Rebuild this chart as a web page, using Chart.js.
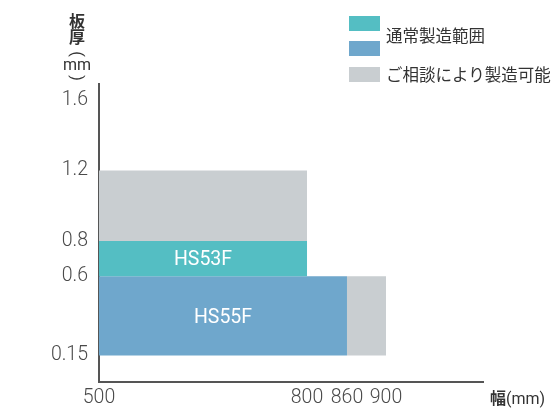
<!DOCTYPE html>
<html lang="ja">
  <head>
    <meta charset="UTF-8" />
    <title>板厚・幅 製造範囲</title>
    <script src="https://cdn.jsdelivr.net/npm/chart.js"></script>
    <style>
      * {
        margin: 0;
        padding: 0;
        box-sizing: border-box;
      }

      body {
        width: 556px;
        height: 410px;
        background: #fff;
        font-family: "Noto Sans CJK JP", sans-serif;
        color: #333;
        position: relative;
        overflow: hidden;
      }

      .wrap {
        position: absolute;
        left: 0;
        top: 0;
        width: 556px;
        height: 410px;
      }

      /* Y axis title, stacked vertically */
      .ytitle span {
        position: absolute;
        display: block;
        width: 30px;
        left: 62px;
        text-align: center;
        color: #333;
        white-space: nowrap;
      }

      .ytitle .kanji {
        font-size: 16px;
        font-weight: bold;
        line-height: 16px;
      }

      .ytitle .paren {
        font-family: Roboto, sans-serif;
        font-size: 16px;
        line-height: 16px;
        transform: rotate(90deg);
      }

      .ytitle .mm {
        font-family: Roboto, sans-serif;
        font-size: 16px;
        line-height: 16px;
      }

      .xtitle {
        position: absolute;
        left: 490px;
        top: 387px;
        font-size: 16px;
        line-height: 20px;
        color: #333;
        white-space: nowrap;
      }

      .xtitle b {
        font-weight: bold;
      }

      .xtitle span {
        font-family: Roboto, sans-serif;
      }

      /* Legend */
      .legend {
        position: absolute;
        left: 349px;
        top: 16px;
      }

      .legend .box {
        position: absolute;
        left: 0;
        width: 31px;
        height: 15px;
      }

      .legend .label {
        position: absolute;
        left: 37px;
        font-size: 16.5px;
        line-height: 20px;
        color: #333;
        white-space: nowrap;
      }
    </style>
  </head>
  <body>
    <div class="wrap"><canvas id="rangeChart" width="556" height="410"></canvas></div>

    <div class="ytitle">
      <span class="kanji" style="top: 12px">板</span>
      <span class="kanji" style="top: 28px">厚</span>
      <span class="paren" style="top: 46px">(</span>
      <span class="mm" style="top: 57px">mm</span>
      <span class="paren" style="top: 70px">)</span>
    </div>
    <div class="xtitle"><b>幅</b><span>(mm)</span></div>

    <div class="legend">
      <div class="box" style="top: 0; background: #54bec3"></div>
      <div class="box" style="top: 25px; background: #6fa7cc"></div>
      <div class="box" style="top: 51px; background: #c9ced1"></div>
      <div class="label" style="top: 9px">通常製造範囲</div>
      <div class="label" style="top: 48px">ご相談により製造可能</div>
    </div>

    <script>
      // tick labels
      const widthTicks = [500, 800, 860, 900];
      const thicknessTicks = [0.15, 0.6, 0.8, 1.2, 1.6];

      // normal production ranges (teal / blue)
      const normalNames = ["HS53F", "HS55F"];
      const normalWidthFrom = [500, 500];
      const normalWidthTo = [800, 860];
      const normalThickFrom = [0.6, 0.15];
      const normalThickTo = [0.8, 0.6];

      // available on request (gray)
      const consultWidthFrom = [500, 860];
      const consultWidthTo = [800, 900];
      const consultThickFrom = [0.8, 0.15];
      const consultThickTo = [1.2, 0.6];

      const TEAL = "#54bec3";
      const BLUE = "#6fa7cc";
      const GRAY = "#c9ced1";

      // the width axis in the original is not to scale, so use a
      // piecewise linear axis: [value, fraction of axis length]
      class BrokenScale extends Chart.LinearScale {
        static id = "broken";
        static defaults = Chart.LinearScale.defaults;

        toDecimal(v) {
          const stops = this.options.stops;
          if (v <= stops[0][0]) return stops[0][1];
          for (let i = 1; i < stops.length; i++) {
            const a = stops[i - 1];
            const b = stops[i];
            if (v <= b[0]) {
              return a[1] + ((v - a[0]) / (b[0] - a[0])) * (b[1] - a[1]);
            }
          }
          return stops[stops.length - 1][1];
        }

        getPixelForValue(value) {
          return this.getPixelForDecimal(this.toDecimal(value));
        }

        getValueForPixel(pixel) {
          const d = this.getDecimalForPixel(pixel);
          const stops = this.options.stops;
          for (let i = 1; i < stops.length; i++) {
            const a = stops[i - 1];
            const b = stops[i];
            if (d <= b[1]) {
              return a[0] + ((d - a[1]) / (b[1] - a[1])) * (b[0] - a[0]);
            }
          }
          return stops[stops.length - 1][0];
        }
      }
      Chart.register(BrokenScale);

      function rectPoints(x0, x1, y0, y1) {
        return [
          { x: x0, y: y0 },
          { x: x1, y: y0 },
          { x: x1, y: y1 },
          { x: x0, y: y1 },
          { x: x0, y: y0 },
        ];
      }

      function rectDataset(x0, x1, y0, y1, color, name) {
        return {
          label: name,
          data: rectPoints(x0, x1, y0, y1),
          fill: "shape",
          backgroundColor: color,
          borderWidth: 0,
          pointRadius: 0,
          tension: 0,
        };
      }

      const datasets = [];
      consultWidthFrom.forEach((x0, i) => {
        datasets.push(
          rectDataset(x0, consultWidthTo[i], consultThickFrom[i], consultThickTo[i], GRAY, "")
        );
      });
      normalNames.forEach((name, i) => {
        datasets.push(
          rectDataset(
            normalWidthFrom[i],
            normalWidthTo[i],
            normalThickFrom[i],
            normalThickTo[i],
            i === 0 ? TEAL : BLUE,
            name
          )
        );
      });

      // white grade names in the middle of each normal range
      const rangeLabels = {
        id: "rangeLabels",
        afterDatasetsDraw(chart) {
          const { ctx, scales } = chart;
          ctx.save();
          ctx.fillStyle = "#fff";
          ctx.font = "400 19.5px Roboto, sans-serif";
          ctx.textAlign = "center";
          ctx.textBaseline = "middle";
          normalNames.forEach((name, i) => {
            const x = (scales.x.getPixelForValue(normalWidthFrom[i]) +
              scales.x.getPixelForValue(normalWidthTo[i])) / 2;
            const y = (scales.y.getPixelForValue(normalThickFrom[i]) +
              scales.y.getPixelForValue(normalThickTo[i])) / 2;
            ctx.fillText(name, x, y + 2);
          });
          ctx.restore();
        },
      };

      const tickFont = { family: "Roboto, sans-serif", size: 19.5, weight: 300 };

      new Chart(document.getElementById("rangeChart"), {
        type: "line",
        data: { datasets },
        options: {
          responsive: false,
          animation: false,
          events: [],
          layout: { padding: { top: 84, right: 73, bottom: 0, left: 0 } },
          plugins: {
            legend: { display: false },
            tooltip: { enabled: false },
          },
          scales: {
            x: {
              type: "broken",
              min: 500,
              max: 1000,
              stops: [
                [500, 0],
                [800, 0.5417],
                [860, 0.6458],
                [900, 0.7474],
                [1000, 1],
              ],
              grid: { display: false, drawTicks: false },
              border: { display: true, color: "#555", width: 2 },
              afterBuildTicks: (s) => {
                s.ticks = widthTicks.map((v) => ({ value: v }));
              },
              afterFit: (s) => {
                s.height = 28;
              },
              ticks: {
                color: "#4a4a4a",
                font: tickFont,
                padding: 4,
                autoSkip: false,
                maxRotation: 0,
                callback: (v) => String(v),
              },
            },
            y: {
              type: "linear",
              min: 0,
              max: 1.69,
              grid: { display: false, drawTicks: false },
              border: { display: true, color: "#555", width: 2 },
              afterBuildTicks: (s) => {
                s.ticks = thicknessTicks.map((v) => ({ value: v }));
              },
              afterFit: (s) => {
                s.width = 99;
              },
              ticks: {
                color: "#4a4a4a",
                font: tickFont,
                padding: 11,
                autoSkip: false,
                callback: (v) => String(v),
              },
            },
          },
        },
        plugins: [rangeLabels],
      });
    </script>
  </body>
</html>
